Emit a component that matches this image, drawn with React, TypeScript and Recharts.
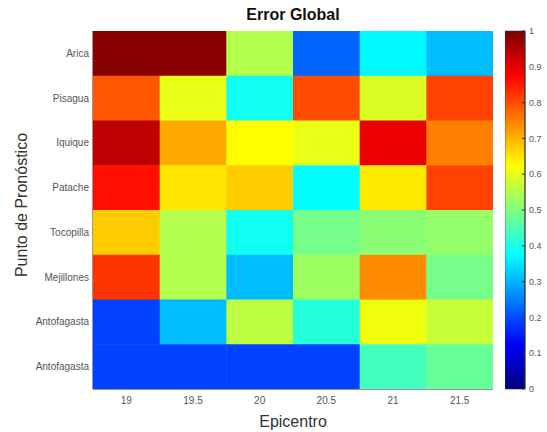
import React from 'react';
import { ScatterChart, Scatter, XAxis, YAxis, BarChart, Bar } from 'recharts';

const epicentros = [19, 19.5, 20, 20.5, 21, 21.5];
const puntos = ['Arica', 'Pisagua', 'Iquique', 'Patache', 'Tocopilla', 'Mejillones', 'Antofagasta', 'Antofagasta'];

const errArica = [0.99, 0.99, 0.55, 0.225, 0.37, 0.31];
const errPisagua = [0.79, 0.605, 0.39, 0.8, 0.59, 0.81];
const errIquique = [0.94, 0.71, 0.625, 0.605, 0.895, 0.75];
const errPatache = [0.86, 0.65, 0.675, 0.375, 0.645, 0.81];
const errTocopilla = [0.675, 0.55, 0.39, 0.49, 0.51, 0.52];
const errMejillones = [0.825, 0.55, 0.31, 0.53, 0.74, 0.49];
const errAntofagasta1 = [0.19, 0.31, 0.56, 0.41, 0.61, 0.57];
const errAntofagasta2 = [0.19, 0.19, 0.19, 0.19, 0.44, 0.475];

const errorRows = [errArica, errPisagua, errIquique, errPatache, errTocopilla, errMejillones, errAntofagasta1, errAntofagasta2];
const colorbarTicks = [0, 0.1, 0.2, 0.3, 0.4, 0.5, 0.6, 0.7, 0.8, 0.9, 1];

const W = 547;
const H = 432;
const M_TOP = 31;
const M_RIGHT = 54;
const Y_AXIS_W = 93;
const X_AXIS_H = 43;
const PLOT_W = W - M_RIGHT - Y_AXIS_W;
const PLOT_H = H - M_TOP - X_AXIS_H;
const CELL_W = PLOT_W / epicentros.length;
const CELL_H = PLOT_H / puntos.length;

const FONT = '"Liberation Sans", Arial, Helvetica, sans-serif';

function jet(v: number): string {
  const c = (x: number) => Math.max(0, Math.min(1, x));
  const r = c(1.5 - Math.abs(4 * v - 3));
  const g = c(1.5 - Math.abs(4 * v - 2));
  const b = c(1.5 - Math.abs(4 * v - 1));
  return `rgb(${Math.round(r * 255)},${Math.round(g * 255)},${Math.round(b * 255)})`;
}

const cells = errorRows.flatMap((row, i) =>
  row.map((v, j) => ({ x: epicentros[j], y: i + 1, v }))
);

const gradStops = [0, 0.125, 0.375, 0.625, 0.875, 1];

const HeatCell = (props: any) => {
  const { cx, cy, payload } = props;
  if (cx == null || cy == null) return <g />;
  return (
    <rect
      x={cx - CELL_W / 2}
      y={cy - CELL_H / 2}
      width={CELL_W + 0.5}
      height={CELL_H + 0.5}
      fill={jet(payload.v)}
      stroke="none"
    />
  );
};

const YLabel = (props: any) => {
  const vb = props.viewBox || { x: 0, y: 0, width: 0, height: 0 };
  const x = vb.x + 21;
  const y = vb.y + vb.height / 2 - 5;
  return (
    <text
      x={x}
      y={y}
      transform={`rotate(-90 ${x} ${y})`}
      textAnchor="middle"
      dominantBaseline="central"
      fontSize={16}
      fill="#333"
      fontFamily={FONT}
    >
      Punto de Pronóstico
    </text>
  );
};

export default function App() {
  return (
    <div style={{ position: 'absolute', left: 0, top: 0, width: W, height: H, background: '#fff', fontFamily: FONT }}>
      <div
        style={{
          position: 'absolute',
          left: Y_AXIS_W,
          width: PLOT_W,
          top: 6,
          textAlign: 'center',
          fontWeight: 'bold',
          fontSize: 16,
          color: '#111',
          fontFamily: FONT,
        }}
      >
        Error Global
      </div>
      <div style={{ position: 'absolute', left: 0, top: 0 }}>
        <ScatterChart width={W} height={H} margin={{ top: M_TOP, right: M_RIGHT, left: 0, bottom: 0 }}>
          <Scatter data={cells} dataKey="v" shape={HeatCell} isAnimationActive={false} xAxisId="b" yAxisId="l" />
          <XAxis
            xAxisId="b"
            type="number"
            dataKey="x"
            domain={[18.75, 21.75]}
            ticks={epicentros}
            allowDataOverflow
            height={X_AXIS_H}
            tickSize={-4}
            tickMargin={12}
            tick={{ fontSize: 10, fill: '#555', fontFamily: FONT }}
            axisLine={{ stroke: '#333' }}
            tickLine={{ stroke: '#333' }}
            label={{ value: 'Epicentro', position: 'insideBottom', offset: 5, fontSize: 16, fill: '#333', fontFamily: FONT }}
          />
          <XAxis
            xAxisId="t"
            orientation="top"
            type="number"
            domain={[18.75, 21.75]}
            ticks={epicentros}
            allowDataOverflow
            height={0}
            tickSize={-4}
            tickFormatter={() => ''}
            axisLine={{ stroke: '#333' }}
            tickLine={{ stroke: '#333' }}
          />
          <YAxis
            yAxisId="l"
            type="number"
            dataKey="y"
            domain={[0.5, 8.5]}
            reversed
            ticks={[1, 2, 3, 4, 5, 6, 7, 8]}
            tickFormatter={(i: number) => puntos[i - 1] ?? ''}
            allowDataOverflow
            width={Y_AXIS_W}
            tickSize={-4}
            tickMargin={8}
            tick={{ fontSize: 10, fill: '#555', fontFamily: FONT }}
            axisLine={{ stroke: '#333' }}
            tickLine={{ stroke: '#333' }}
            label={<YLabel />}
          />
          <YAxis
            yAxisId="r"
            orientation="right"
            type="number"
            domain={[0.5, 8.5]}
            reversed
            ticks={[1, 2, 3, 4, 5, 6, 7, 8]}
            allowDataOverflow
            width={0}
            tickSize={-4}
            tickFormatter={() => ''}
            axisLine={{ stroke: '#333' }}
            tickLine={{ stroke: '#333' }}
          />
        </ScatterChart>
      </div>
      <div style={{ position: 'absolute', left: 505, top: 0 }}>
        <BarChart
          width={42}
          height={H}
          data={[{ name: 'cb', v: 1 }]}
          margin={{ top: M_TOP, right: 0, left: 0, bottom: X_AXIS_H }}
          barCategoryGap={0}
        >
          <defs>
            <linearGradient id="jetGrad" x1="0" y1="1" x2="0" y2="0">
              {gradStops.map((s) => (
                <stop key={s} offset={s} stopColor={jet(s)} />
              ))}
            </linearGradient>
          </defs>
          <XAxis dataKey="name" hide />
          <YAxis
            orientation="right"
            type="number"
            domain={[0, 1]}
            ticks={colorbarTicks}
            width={22}
            tickSize={-3}
            tickMargin={7}
            tick={{ fontSize: 9, fill: '#555', fontFamily: FONT, textAnchor: 'start' }}
            axisLine={{ stroke: '#333' }}
            tickLine={{ stroke: '#333' }}
          />
          <Bar dataKey="v" fill="url(#jetGrad)" stroke="#333" strokeWidth={0.6} isAnimationActive={false} />
        </BarChart>
      </div>
    </div>
  );
}
